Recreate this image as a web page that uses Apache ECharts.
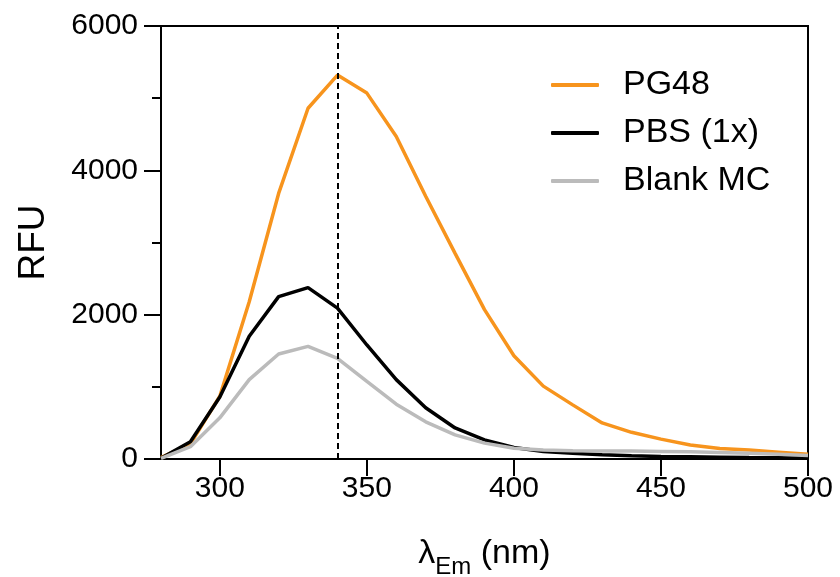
<!DOCTYPE html>
<html>
<head>
<meta charset="utf-8">
<script src="https://cdn.jsdelivr.net/npm/echarts@6/dist/echarts.min.js"></script>
<style>
html,body{margin:0;padding:0;background:#fff;}
#chart{width:840px;height:577px;}
</style>
</head>
<body>
<div id="chart"></div>
<script>
// Emission wavelength (nm)
const wavelengths = [280, 290, 300, 310, 320, 330, 340, 350, 360, 370, 380, 390, 400, 410, 420, 430, 440, 450, 460, 470, 480, 490, 500];
// RFU values
const pg48    = [20, 210, 870, 2180, 3680, 4860, 5320, 5070, 4470, 3640, 2850, 2070, 1430, 1010, 750, 500, 370, 275, 195, 145, 125, 95, 65];
const pbs1x   = [10, 240, 860, 1700, 2250, 2375, 2090, 1580, 1100, 710, 430, 265, 160, 105, 80, 60, 45, 35, 30, 25, 20, 18, 15];
const blankMC = [10, 170, 570, 1100, 1455, 1560, 1395, 1075, 760, 515, 335, 220, 150, 125, 115, 110, 110, 105, 100, 90, 80, 65, 50];
const seriesNames = ['PG48', 'PBS (1x)', 'Blank MC'];
const xTicks = [300, 350, 400, 450, 500];
const peakLine = 340;

const FONT = '"Liberation Sans", Arial, sans-serif';
const pairs = arr => wavelengths.map((w, i) => [w, arr[i]]);

const chart = echarts.init(document.getElementById('chart'), null, {renderer: 'canvas'});
chart.setOption({
  animation: false,
  backgroundColor: '#fff',
  textStyle: {fontFamily: FONT, color: '#000'},
  grid: {left: 161, right: 32, top: 26, bottom: 118, show: true, borderColor: '#000', borderWidth: 2,
         containLabel: false, outerBoundsMode: 'none'},
  legend: {
    orient: 'vertical', left: 546, top: 63, itemGap: 14,
    itemWidth: 48, itemHeight: 4, icon: 'roundRect',
    data: seriesNames,
    textStyle: {fontFamily: FONT, fontSize: 34, color: '#000', lineHeight: 34, padding: [0, 0, 0, 19]}
  },
  xAxis: {
    type: 'value', min: 280, max: 500,
    name: '{a|λ}{b|Em}{a| (nm)}', nameLocation: 'middle', nameGap: 70,
    nameTextStyle: {
      rich: {
        a: {fontFamily: FONT, fontSize: 34, color: '#000'},
        b: {fontFamily: FONT, fontSize: 24, color: '#000', padding: [26, 0, 0, 0]}
      }
    },
    axisLine: {onZero: false, lineStyle: {color: '#000', width: 2}},
    axisTick: {show: true, length: 17, lineStyle: {color: '#000', width: 2}, customValues: xTicks},
    axisLabel: {fontFamily: FONT, fontSize: 30, color: '#000', margin: 15, customValues: xTicks},
    splitLine: {show: false}
  },
  yAxis: {
    type: 'value', min: 0, max: 6000, interval: 2000,
    name: 'RFU', nameLocation: 'middle', nameGap: 109,
    nameTextStyle: {fontFamily: FONT, fontSize: 37, color: '#000'},
    axisLine: {show: true, lineStyle: {color: '#000', width: 2}},
    axisTick: {show: true, length: 17, lineStyle: {color: '#000', width: 2}},
    minorTick: {show: true, splitNumber: 2, length: 9, lineStyle: {color: '#000', width: 2}},
    axisLabel: {fontFamily: FONT, fontSize: 30, color: '#000', margin: 23, formatter: v => String(v)},
    splitLine: {show: false}
  },
  series: [
    {
      name: seriesNames[0], type: 'line', data: pairs(pg48), symbol: 'none',
      lineStyle: {color: '#F7941D', width: 3.5}, itemStyle: {color: '#F7941D'},
      markLine: {
        silent: true, symbol: ['none', 'none'], label: {show: false},
        lineStyle: {color: '#000', width: 2, type: [6, 4]},
        data: [{xAxis: peakLine}]
      }
    },
    {
      name: seriesNames[1], type: 'line', data: pairs(pbs1x), symbol: 'none',
      lineStyle: {color: '#000000', width: 3.5}, itemStyle: {color: '#000000'}
    },
    {
      name: seriesNames[2], type: 'line', data: pairs(blankMC), symbol: 'none',
      lineStyle: {color: '#BBBBBB', width: 3.5}, itemStyle: {color: '#BBBBBB'}
    }
  ]
});
</script>
</body>
</html>
